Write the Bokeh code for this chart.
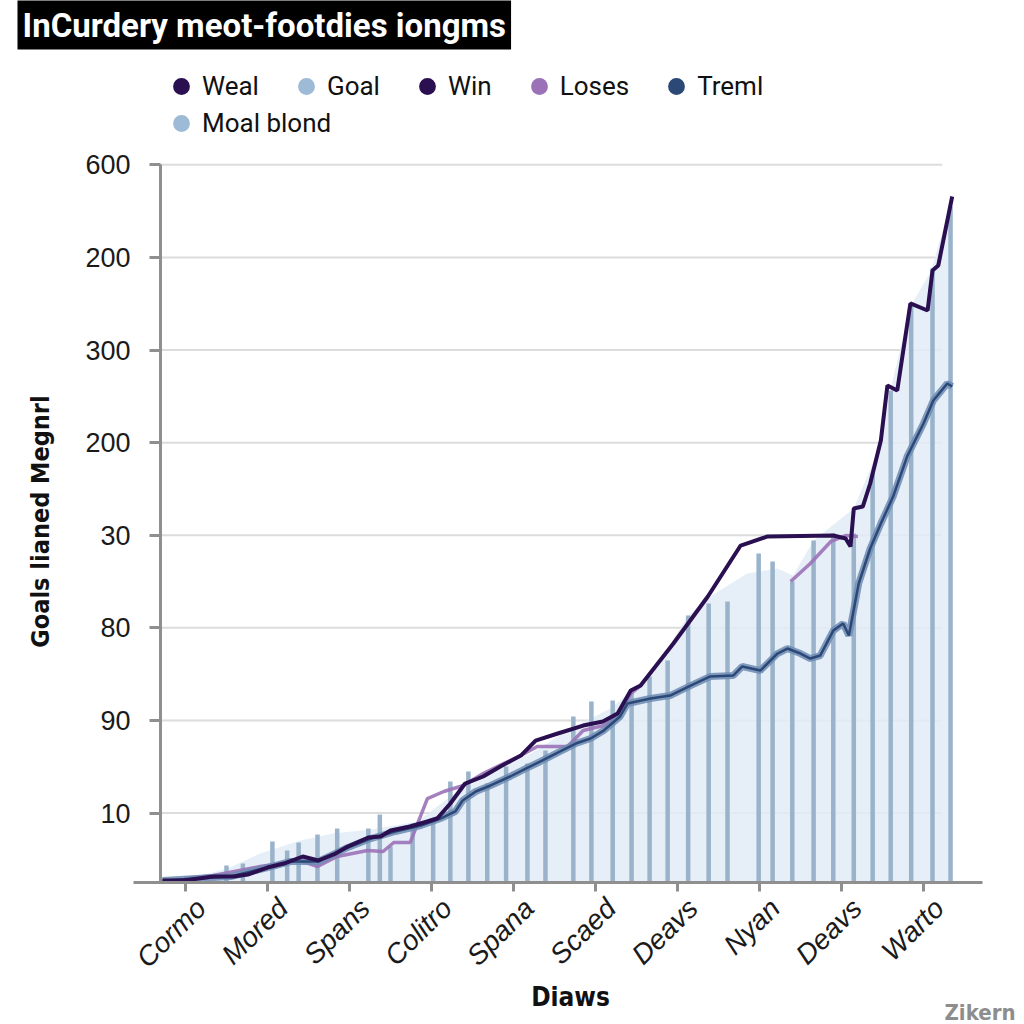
import math
from bokeh.plotting import figure
from bokeh.models import FixedTicker, Legend, LegendItem, Label, LinearAxis
from bokeh.embed import file_html
from bokeh.resources import INLINE

TITLE = "InCurdery meot-footdies iongms"
X_TICKS = [0, 10, 20, 30, 40, 50, 60, 70, 80, 90]
X_LABELS = ["Cormo", "Mored", "Spans", "Colitro", "Spana", "Scaed", "Deavs", "Nyan", "Deavs", "Warto"]
Y_TICKS = [75, 175, 275, 375, 475, 575, 675, 775]
Y_LABELS = ["10", "90", "80", "30", "200", "300", "200", "600"]
X_TITLE = "Diaws"
Y_TITLE = "Goals lianed Megnrl"
WATERMARK = "Zikern"

# Goal (bars)
goal_x = [5.0, 7.0, 10.6, 12.4, 13.8, 16.1, 18.5, 22.3, 23.7, 25.0, 27.7, 30.2, 32.3, 34.5,
          36.8, 39.1, 41.7, 43.9, 47.3, 49.5, 52.1, 54.4, 56.6, 58.8, 61.3, 63.8, 66.1, 69.9,
          71.6, 74.0, 76.6, 79.0, 81.5, 83.8, 86.0, 88.5, 91.1, 93.3]
goal_y = [18.4, 20.5, 44.3, 34.6, 43.2, 51.8, 58.3, 58.3, 73.4, 38.9, 63.7, 67.0, 109.1, 119.9,
          106.9, 125.3, 128.5, 142.5, 179.3, 195.5, 196.5, 207.3, 222.5, 239.7, 288.3, 301.3, 303.5, 355.3,
          346.7, 325.1, 369.3, 376.9, 376.9, 441.7, 531.3, 625.3, 663.1, 730.0]

# Moal blond (area)
area_x = [-2.8, 1.8, 5.1, 9.1, 14.0, 18.0, 22.6, 28.3, 32.3, 37.2, 42.1, 47.0, 51.8, 56.7,
          61.3, 64.0, 68.5, 72.2, 74.1, 76.6, 81.5, 84.8, 86.0, 88.4, 90.9, 93.3]
area_y = [1.1, 7.6, 15.1, 31.3, 45.4, 52.9, 57.2, 65.9, 92.9, 117.7, 139.3, 166.3, 187.9, 223.5,
          288.3, 308.9, 333.7, 339.1, 331.5, 369.3, 403.9, 474.1, 533.5, 622.0, 659.8, 733.3]

# Weal / Win (dark line)
weal_x = [-2.8, -0.2, 3.4, 5.9, 7.6, 10.0, 12.0, 14.3, 16.2, 18.3, 19.8, 22.3, 23.8, 25.0, 27.4,
          29.5, 30.7, 32.3, 34.1, 36.3, 38.4, 40.9, 42.7, 45.4, 48.5, 50.9, 52.7, 54.3, 55.5, 59.5,
          63.7, 67.7, 71.0, 79.0, 80.5, 81.1, 81.5, 82.6, 83.5, 84.8, 85.6, 86.8, 88.4, 90.5, 91.1,
          91.8, 93.5]
weal_y = [2.2, 2.2, 6.5, 6.5, 8.6, 16.2, 20.5, 28.1, 23.8, 31.3, 38.9, 48.6, 49.7, 56.2, 60.5,
          65.9, 69.1, 85.3, 106.9, 114.5, 125.3, 137.1, 153.3, 160.9, 169.5, 173.9, 182.5, 207.3, 212.7, 258.1,
          308.9, 363.9, 373.7, 374.7, 371.5, 362.9, 403.9, 406.0, 430.9, 477.3, 536.7, 531.3, 625.3, 617.7, 660.9,
          666.3, 740.8]

# Treml
treml_x = [-2.8, 5.5, 10.0, 12.8, 16.2, 19.5, 22.6, 25.6, 28.7, 31.1, 32.9, 33.8, 35.4, 37.2, 39.6,
           41.5, 43.3, 45.7, 47.6, 49.4, 51.0, 53.0, 53.9, 56.7, 59.1, 61.6, 64.0, 66.8, 67.9, 70.1,
           72.2, 73.4, 75.0, 76.2, 77.4, 79.0, 80.2, 80.9, 82.1, 83.5, 84.8, 86.3, 88.0, 90.0, 91.2,
           92.9, 93.5]
treml_y = [2.2, 6.5, 16.2, 22.7, 22.7, 36.7, 47.5, 55.1, 61.6, 69.1, 76.7, 88.6, 98.3, 104.8, 114.5,
           123.1, 130.7, 141.5, 150.1, 155.5, 164.1, 179.3, 193.3, 198.7, 201.9, 212.7, 222.5, 223.5, 233.3, 228.9,
           247.3, 252.7, 247.3, 241.9, 245.1, 272.1, 279.7, 266.7, 322.9, 360.7, 387.7, 416.8, 460.0, 495.7, 520.5,
           538.9, 535.6]

# Loses (with a gap)
loses_x = [-0.2, 3.4, 9.1, 14.0, 16.1, 18.5, 22.2, 24.1, 25.4, 27.4, 29.5, 31.5, 33.9, 36.3, 38.8,
           40.9, 42.9, 46.6, 48.5, 51.0, 52.7, 54.3, 55.5, float("nan"), 73.8, 76.2, 78.7, 80.5, 82.0]
loses_y = [4.3, 7.6, 17.3, 23.8, 17.3, 28.1, 34.6, 33.5, 43.2, 43.2, 90.7, 98.3, 104.8, 117.7, 128.5,
           137.1, 146.9, 146.9, 164.1, 169.5, 179.3, 204.1, 212.7, float("nan"), 325.1, 344.5, 368.3, 374.7, 373.7]

# ranges / layout constants
X_START, X_END = -22.07, 101.83
X_AXIS_BOUNDS = (-6.34, 97.2)
Y_AXIS_AT = -3.05
GRID_END = 92.3
LABEL_SHIFT = 1.9
Y_START, Y_END = -154.4, 897.4

C_DARK = "#2a1050"
C_GOAL = "#9ab3ca"
C_LOSES = "#9b72b8"
C_TREML = "#2c4877"
C_TREML_HALO = "#6d8bb3"
C_AREA = "#e2ecf6"
C_LEG_LIGHT = "#9dbad6"
AXIS_C = "#8f8f8f"
TXT_C = "#1a1a1a"
COND = "DejaVu Sans Condensed, Liberation Sans"

p = figure(frame_width=1016, frame_height=974,
           x_range=(X_START, X_END), y_range=(Y_START, Y_END),
           min_border_left=4, min_border_right=4, min_border_top=48, min_border_bottom=2,
           output_backend="svg", toolbar_location=None)
p.outline_line_color = None
p.background_fill_color = "white"
p.border_fill_color = "white"
p.xgrid.visible = False
p.ygrid.visible = False

# gridlines
p.segment(x0=[Y_AXIS_AT] * len(Y_TICKS), x1=[GRID_END] * len(Y_TICKS), y0=Y_TICKS, y1=Y_TICKS,
          line_color="#dcdcdc", line_width=2)

p.varea(x=area_x, y1=[0] * len(area_x), y2=area_y, fill_color=C_AREA, fill_alpha=0.85)
p.vbar(x=goal_x, top=goal_y, bottom=0, width=0.55, fill_color=C_GOAL, line_color=None)
p.line(loses_x, loses_y, line_color=C_LOSES, line_width=3.5, line_alpha=0.9)
p.line(treml_x, treml_y, line_color=C_TREML_HALO, line_width=7, line_alpha=0.85)
p.line(treml_x, treml_y, line_color=C_TREML, line_width=2.5)
p.line(weal_x, weal_y, line_color=C_DARK, line_width=4)

# title
p.title.text = TITLE
p.title.text_font = "Roboto"
p.title.text_font_size = "33px"
p.title.text_font_style = "bold"
p.title.text_color = "white"
p.title.background_fill_color = "black"
p.title.align = "left"
p.title.vertical_align = "top"
p.title.offset = 13
p.title.standoff = 0
p.title.padding = 5

# x axis (line + ticks)
xa = p.xaxis[0]
xa.fixed_location = 0
xa.bounds = X_AXIS_BOUNDS
xa.ticker = FixedTicker(ticks=X_TICKS)
xa.major_label_text_color = None
xa.axis_line_color = AXIS_C
xa.axis_line_width = 3
xa.major_tick_line_color = AXIS_C
xa.major_tick_line_width = 3
xa.major_tick_out = 9
xa.major_tick_in = 0
xa.minor_tick_line_color = None

# x axis labels
xl = LinearAxis(fixed_location=0, ticker=FixedTicker(ticks=[t + LABEL_SHIFT for t in X_TICKS]),
                major_label_overrides={t + LABEL_SHIFT: l for t, l in zip(X_TICKS, X_LABELS)},
                axis_line_color=None, major_tick_line_color=None, minor_tick_line_color=None,
                major_tick_out=9, major_tick_in=0, major_label_standoff=12,
                major_label_orientation=0.78,
                major_label_text_font="Liberation Sans", major_label_text_font_style="italic",
                major_label_text_font_size="28px", major_label_text_color=TXT_C)
p.add_layout(xl, "below")

ya = p.yaxis[0]
ya.fixed_location = Y_AXIS_AT
ya.ticker = FixedTicker(ticks=Y_TICKS)
ya.major_label_overrides = {t: l for t, l in zip(Y_TICKS, Y_LABELS)}
ya.bounds = (0, Y_TICKS[-1])
ya.major_label_text_font = "Liberation Sans"
ya.major_label_text_font_size = "27px"
ya.major_label_text_color = TXT_C
ya.major_label_standoff = 19
ya.axis_line_color = AXIS_C
ya.axis_line_width = 3
ya.major_tick_line_color = AXIS_C
ya.major_tick_line_width = 3
ya.major_tick_out = 11
ya.major_tick_in = 0
ya.minor_tick_line_color = None

# axis titles
p.add_layout(Label(x=36, y=504, x_units="screen", y_units="screen", text=Y_TITLE, angle=math.pi / 2,
                   text_align="center", text_baseline="middle", text_font=COND,
                   text_font_style="bold", text_font_size="25px", text_color="#111111"))
p.add_layout(Label(x=566, y=29, x_units="screen", y_units="screen", text=X_TITLE,
                   text_align="center", text_baseline="middle", text_font=COND,
                   text_font_style="bold", text_font_size="26px", text_color="#111111"))

# legend proxies (no visible data, only for the legend swatches)
NAN = [float("nan")]

def proxy(color):
    return p.scatter(x=NAN, y=NAN, marker="circle", size=16, fill_color=color, line_color=None)

r_weal = proxy(C_DARK)
r_goal = proxy(C_LEG_LIGHT)
r_win = proxy(C_DARK)
r_loses = proxy(C_LOSES)
r_treml = proxy(C_TREML)
r_moal = proxy(C_LEG_LIGHT)

def make_legend(items, loc):
    return Legend(items=items, orientation="horizontal", location=loc,
                  glyph_width=42, glyph_height=42, label_standoff=-3, spacing=26,
                  padding=0, margin=0, border_line_color=None, background_fill_alpha=0,
                  label_text_font="Roboto", label_text_font_size="26px", label_text_color="#111111")

leg1 = make_legend([LegendItem(label="Weal", renderers=[r_weal]),
                    LegendItem(label="Goal", renderers=[r_goal]),
                    LegendItem(label="Win", renderers=[r_win]),
                    LegendItem(label="Loses", renderers=[r_loses]),
                    LegendItem(label="Treml", renderers=[r_treml])], (156, 918))
leg2 = make_legend([LegendItem(label="Moal blond", renderers=[r_moal])], (156, 881))
p.add_layout(leg1)
p.add_layout(leg2)

p.add_layout(Label(x=1011, y=1, x_units="screen", y_units="screen", text=WATERMARK,
                   text_align="right", text_baseline="bottom", text_font=COND,
                   text_font_style="bold", text_font_size="22px", text_color="#8d8d8d"))

open("out.html", "w").write(file_html(p, INLINE))
